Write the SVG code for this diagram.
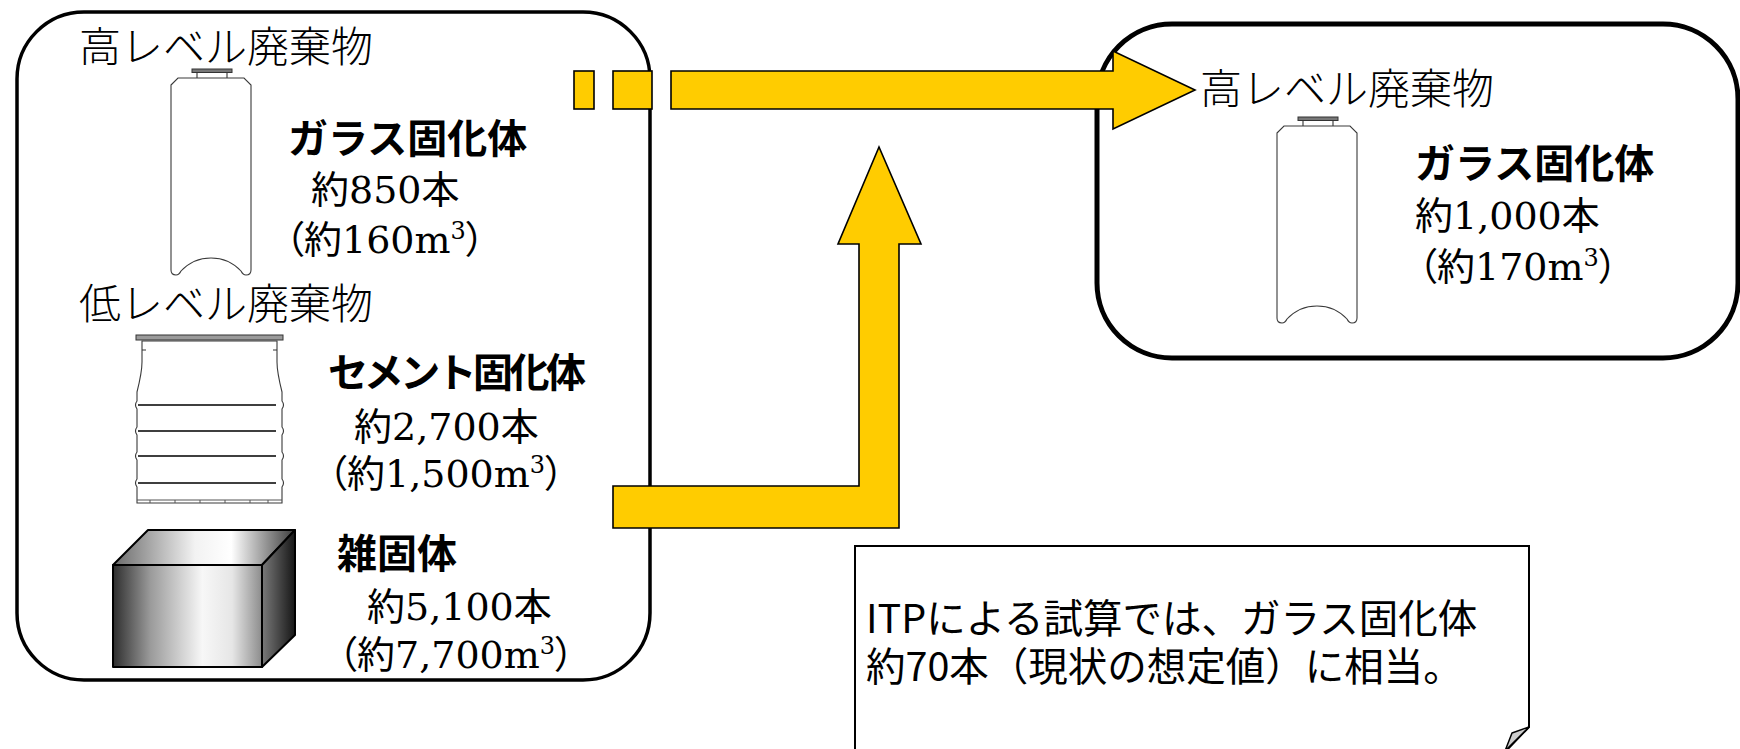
<svg xmlns="http://www.w3.org/2000/svg" width="1740" height="749" viewBox="0 0 1740 749">
  <style>
    .box { fill: #ffffff; stroke: #000000; }
    .flow { fill: #ffcc00; stroke: #000000; stroke-width: 1.6; stroke-linejoin: miter; }
    .label { font-family: "Noto Sans CJK JP", sans-serif; font-weight: 300; font-size: 42px; fill: #000; }
    .title { font-family: "Noto Sans CJK JP", sans-serif; font-weight: 700; font-size: 40px; fill: #000; }
    .qty { font-family: "DejaVu Serif", "Noto Sans CJK JP", serif; font-size: 38px; fill: #000; font-feature-settings: "palt"; }
    .sup { font-size: 24px; }
    .note { font-family: "Noto Sans CJK JP", sans-serif; font-size: 39.5px; fill: #000; }
    .thin { fill: #ffffff; stroke: #3a3a3a; stroke-width: 1.1; }
    .rib { stroke: #000; stroke-width: 1.4; fill: none; }
    .edge { stroke: #000; stroke-width: 2; stroke-linejoin: round; }
  </style>
  <defs>
    <!-- glass canister outline, origin at top-left of body -->
    <g id="canister">
      <rect x="21" y="-9" width="40" height="3.5" fill="#777" stroke="#333" stroke-width="1"/>
      <path d="M26,-5.5 V0 M56,-5.5 V0" stroke="#333" stroke-width="1.1" fill="none"/>
      <path class="thin" d="M0,7 L7,0 L73,0 L80,7 L80,192 Q80,197 75,197 Q72,197 70,193 A41 41 0 0 0 10,193 Q8,197 5,197 Q0,197 0,192 Z"/>
    </g>
    <linearGradient id="gFront" x1="0" y1="0" x2="1" y2="0">
      <stop offset="0" stop-color="#2e2e2e"/>
      <stop offset="0.25" stop-color="#9a9a9a"/>
      <stop offset="0.6" stop-color="#f7f7f7"/>
      <stop offset="0.8" stop-color="#e6e6e6"/>
      <stop offset="1" stop-color="#8c8c8c"/>
    </linearGradient>
    <linearGradient id="gTop" x1="0" y1="0" x2="1" y2="0">
      <stop offset="0" stop-color="#6a6a6a"/>
      <stop offset="0.45" stop-color="#f2f2f2"/>
      <stop offset="0.65" stop-color="#ffffff"/>
      <stop offset="1" stop-color="#3c3c3c"/>
    </linearGradient>
    <linearGradient id="gSide" x1="0" y1="0" x2="1" y2="0">
      <stop offset="0" stop-color="#7a7a7a"/>
      <stop offset="1" stop-color="#161616"/>
    </linearGradient>
  </defs>

  <!-- source inventory -->
  <g id="source">
    <rect class="box" x="17" y="12" width="633" height="668" rx="67" ry="67" stroke-width="3.5"/>
    <text class="label" x="79" y="62">高レベル廃棄物</text>
    <use href="#canister" x="171" y="78"/>
    <text class="title" x="288" y="153">ガラス固化体</text>
    <text class="qty" x="311" y="203">約850本</text>
    <text class="qty" x="285" y="253">（約160m<tspan class="sup" dy="-14">3</tspan><tspan dy="14">）</tspan></text>

    <text class="label" x="79" y="319">低レベル廃棄物</text>
    <!-- cement drum -->
    <g id="drum">
      <path class="thin" d="M142,341 L142,362 Q142,372 137,392 L137,401 Q134,405 137,409 L137,427 Q134,431 137,435 L137,452 Q134,456 137,460 L137,479 Q134,483 137,487 L137,503 L282,503 L282,487 Q285,483 282,479 L282,460 Q285,456 282,452 L282,435 Q285,431 282,427 L282,409 Q285,405 282,401 L282,392 Q277,372 277,362 L277,341 Z"/>
      <rect x="136" y="335" width="147" height="5" fill="#9a9a9a" stroke="#333" stroke-width="1"/>
      <path d="M142,350 h4 M277,350 h-4" stroke="#333" stroke-width="1"/>
      <path class="rib" d="M138,405 H276 M138,431 H276 M138,456 H276 M138,483 H276"/>
      <path d="M137,500 H282" stroke="#555" stroke-width="1"/>
      <path d="M150,500 v3 M175,500 v3 M200,500 v3 M225,500 v3 M250,500 v3 M268,500 v3" stroke="#555" stroke-width="1"/>
    </g>
    <text class="title" x="328" y="387" textLength="258" lengthAdjust="spacing">セメント固化体</text>
    <text class="qty" x="354" y="440">約2,700本</text>
    <text class="qty" x="328" y="487">（約1,500m<tspan class="sup" dy="-14">3</tspan><tspan dy="14">）</tspan></text>

    <!-- miscellaneous solid waste package -->
    <g id="cube">
      <polygon points="113,565 148,530 295,530 262,565" fill="url(#gTop)" class="edge"/>
      <polygon points="262,565 295,530 295,635 262,667" fill="url(#gSide)" class="edge"/>
      <rect x="113" y="565" width="149" height="102" fill="url(#gFront)" class="edge"/>
    </g>
    <text class="title" x="337" y="568" font-size="41">雑固体</text>
    <text class="qty" x="367" y="620">約5,100本</text>
    <text class="qty" x="338" y="668">（約7,700m<tspan class="sup" dy="-14">3</tspan><tspan dy="14">）</tspan></text>
  </g>

  <!-- result after transmutation -->
  <g id="result">
    <rect class="box" x="1097" y="24" width="641" height="334" rx="75" ry="75" stroke-width="5"/>
    <text class="label" x="1200" y="104">高レベル廃棄物</text>
    <use href="#canister" x="1277" y="126"/>
    <text class="title" x="1415" y="178">ガラス固化体</text>
    <text class="qty" x="1415" y="229">約1,000本</text>
    <text class="qty" x="1418" y="280">（約170m<tspan class="sup" dy="-14">3</tspan><tspan dy="14">）</tspan></text>
  </g>

  <!-- note with folded corner -->
  <g id="note">
    <path d="M855,760 V546 H1529 V727 L1505,752" fill="#ffffff" stroke="#000" stroke-width="2"/>
    <polygon points="1529,727 1512,733 1505,751" fill="#cccccc" stroke="#000" stroke-width="1.5" stroke-linejoin="round"/>
    <text class="note" x="866" y="633">ITPによる試算では、ガラス固化体</text>
    <text class="note" x="866" y="681">約70本（現状の想定値）に相当。</text>
  </g>

  <!-- flow arrows -->
  <g id="connectors">
    <rect class="flow" x="574" y="71" width="20" height="38"/>
    <rect class="flow" x="613" y="71" width="39" height="38"/>
    <polygon class="flow" points="671,71 1113,71 1113,51 1195,90 1113,129 1113,109 671,109"/>
    <polygon class="flow" points="613,486 859,486 859,244 838,244 879,147 921,244 899,244 899,528 613,528"/>
  </g>
</svg>
